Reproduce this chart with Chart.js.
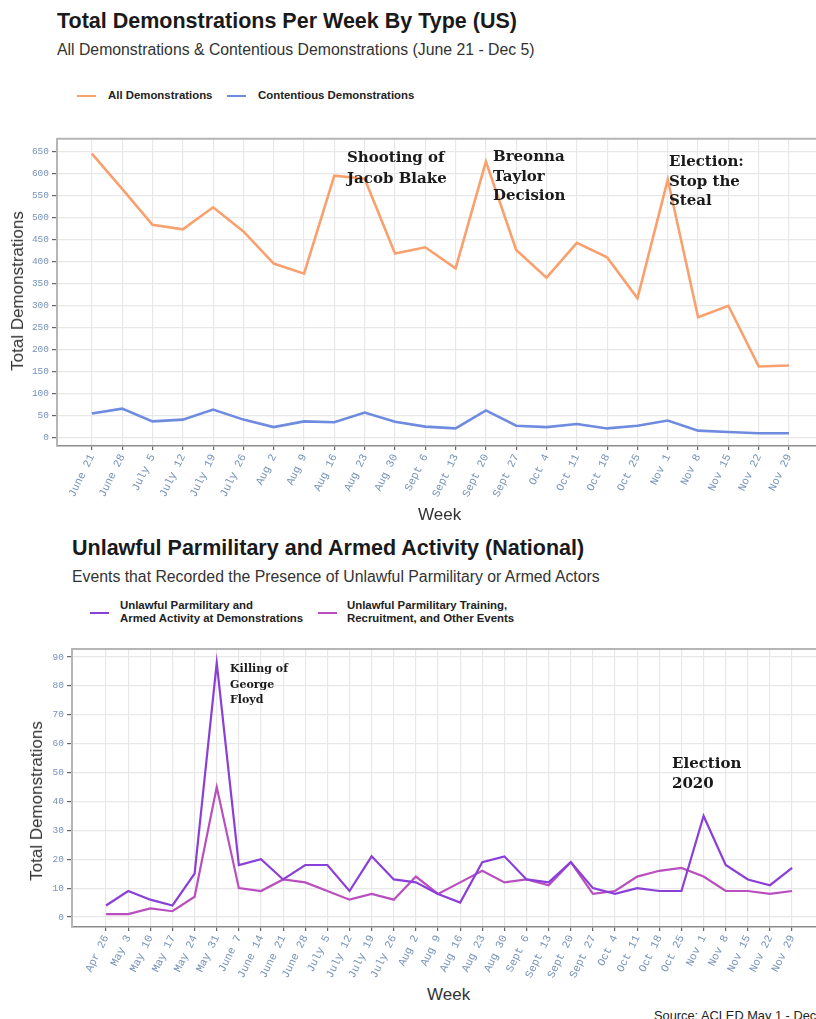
<!DOCTYPE html>
<html>
<head>
<meta charset="utf-8">
<script src="https://cdn.jsdelivr.net/npm/chart.js@4.4.1/dist/chart.umd.min.js"></script>
<style>
  html, body { margin: 0; padding: 0; background: #fff; overflow: hidden; }
  body { width: 816px; height: 1019px; position: relative; font-family: "Liberation Sans", Arial, sans-serif; color: #222; }
  .abs { position: absolute; white-space: nowrap; }
  .title { font-weight: bold; font-size: 21.5px; line-height: 25px; color: #1a1a1a; }
  .sub { font-size: 15.8px; line-height: 18px; color: #333; }
  .leg { font-size: 11.4px; font-weight: bold; color: #222; line-height: 13px; }
  .sw { position: absolute; height: 2px; width: 19px; }
  .axt { font-size: 17px; line-height: 20px; color: #333; }
  .note { font-family: "DejaVu Serif", "Liberation Serif", serif; font-weight: bold; color: #1a1a1a; }
  canvas { position: absolute; left: 0; }
</style>
</head>
<body>

<div class="abs title" style="left:57px; top:9px;">Total Demonstrations Per Week By Type (US)</div>
<div class="abs sub" style="left:57px; top:41px;">All Demonstrations &amp; Contentious Demonstrations (June 21 - Dec 5)</div>
<div class="sw" style="left:77px; top:95px; background:#F8A06E;"></div>
<div class="abs leg" style="left:108px; top:89px;">All Demonstrations</div>
<div class="sw" style="left:227px; top:95px; background:#6E8BE0;"></div>
<div class="abs leg" style="left:258px; top:89px;">Contentious Demonstrations</div>

<div style="position:absolute; left:0; top:130px; width:816px; height:390px;"><canvas id="topChart"></canvas></div>
<div class="abs axt" style="left:18px; top:291px; transform:translate(-50%,-50%) rotate(-90deg);">Total Demonstrations</div>
<div class="abs axt" style="left:418px; top:505px;">Week</div>

<div class="abs note" style="left:347px; top:147px; font-size:15px; line-height:21px;">Shooting of<br>Jacob Blake</div>
<div class="abs note" style="left:493px; top:147px; font-size:15px; line-height:19.5px;">Breonna<br>Taylor<br>Decision</div>
<div class="abs note" style="left:669px; top:152px; font-size:15px; line-height:19.5px;">Election:<br>Stop the<br>Steal</div>

<div class="abs title" style="left:72px; top:536px;">Unlawful Parmilitary and Armed Activity (National)</div>
<div class="abs sub" style="left:72px; top:568px;">Events that Recorded the Presence of Unlawful Parmilitary or Armed Actors</div>
<div class="sw" style="left:90px; top:612px; background:#8A3FD8;"></div>
<div class="abs leg" style="left:120px; top:599px;">Unlawful Parmilitary and<br>Armed Activity at Demonstrations</div>
<div class="sw" style="left:318px; top:612px; background:#B94FBF;"></div>
<div class="abs leg" style="left:347px; top:599px;">Unlawful Parmilitary Training,<br>Recruitment, and Other Events</div>

<div style="position:absolute; left:0; top:640px; width:816px; height:340px;"><canvas id="bottomChart"></canvas></div>
<div class="abs axt" style="left:37px; top:801px; transform:translate(-50%,-50%) rotate(-90deg);">Total Demonstrations</div>
<div class="abs axt" style="left:427px; top:985px;">Week</div>

<div class="abs note" style="left:230px; top:661px; font-size:11px; line-height:15.5px;">Killing of<br>George<br>Floyd</div>
<div class="abs note" style="left:672px; top:753px; font-size:15px; line-height:20px;">Election<br>2020</div>

<div class="abs" style="left:654px; top:1008px; font-size:12.8px; color:#222;">Source: ACLED May 1 - Dec 5</div>

<script>
// Top chart data
const weeksTop = ["June 21", "June 28", "July 5", "July 12", "July 19", "July 26", "Aug 2", "Aug 9",
  "Aug 16", "Aug 23", "Aug 30", "Sept 6", "Sept 13", "Sept 20", "Sept 27", "Oct 4", "Oct 11",
  "Oct 18", "Oct 25", "Nov 1", "Nov 8", "Nov 15", "Nov 22", "Nov 29"];
const allDemos = [645, 565, 483, 473, 523, 468, 395, 372, 595, 588, 418, 432, 384, 627, 426,
  363, 442, 409, 316, 586, 273, 299, 161, 163];
const contentious = [54, 65, 36, 40, 63, 40, 23, 36, 34, 56, 35, 24, 20, 61, 26, 23, 30, 20,
  26, 38, 15, 12, 9, 9];
const yTicksTop = [0, 50, 100, 150, 200, 250, 300, 350, 400, 450, 500, 550, 600, 650];

// Bottom chart data
const weeksBottom = ["Apr 26", "May 3", "May 10", "May 17", "May 24", "May 31", "June 7", "June 14",
  "June 21", "June 28", "July 5", "July 12", "July 19", "July 26", "Aug 2", "Aug 9", "Aug 16",
  "Aug 23", "Aug 30", "Sept 6", "Sept 13", "Sept 20", "Sept 27", "Oct 4", "Oct 11", "Oct 18",
  "Oct 25", "Nov 1", "Nov 8", "Nov 15", "Nov 22", "Nov 29"];
const armedDemos = [4, 9, 6, 4, 15, 88, 18, 20, 13, 18, 18, 9, 21, 13, 12, 8, 5, 19, 21, 13,
  12, 19, 10, 8, 10, 9, 9, 35, 18, 13, 11, 17];
const otherEvents = [1, 1, 3, 2, 7, 45, 10, 9, 13, 12, 9, 6, 8, 6, 14, 8, 12, 16, 12, 13,
  11, 19, 8, 9, 14, 16, 17, 14, 9, 9, 8, 9];
const yTicksBottom = [0, 10, 20, 30, 40, 50, 60, 70, 80, 90];

Chart.defaults.animation = false;
Chart.defaults.font.family = "Liberation Sans";

// top frame line of the plot panel
const frame = {
  id: "frame",
  afterDraw(chart) {
    const a = chart.chartArea, ctx = chart.ctx;
    ctx.save();
    ctx.strokeStyle = "#b5b5b5";
    ctx.lineWidth = 2;
    ctx.beginPath();
    ctx.moveTo(a.left, a.top);
    ctx.lineTo(a.right, a.top);
    ctx.stroke();
    ctx.restore();
  }
};

function toPoints(values) {
  return values.map((v, i) => ({ x: i, y: v }));
}

function makeChart(id, labels, series, yTicks, cfg) {
  const ctx = document.getElementById(id).getContext("2d");
  return new Chart(ctx, {
    type: "line",
    data: {
      datasets: series.map(s => ({
        label: s.label,
        data: toPoints(s.values),
        borderColor: s.color,
        borderWidth: cfg.lineWidth,
        pointRadius: 0,
        tension: 0,
        fill: false
      }))
    },
    options: {
      responsive: true,
      maintainAspectRatio: false,
      layout: { padding: { top: cfg.padTop, right: 0, bottom: 0, left: 0 } },
      plugins: { legend: { display: false }, tooltip: { enabled: false } },
      scales: {
        x: {
          type: "linear",
          min: cfg.xMin,
          max: cfg.xMax,
          afterBuildTicks: s => { s.ticks = labels.map((l, i) => ({ value: i })); },
          afterFit: s => { s.height = cfg.xHeight; },
          ticks: {
            autoSkip: false,
            minRotation: 64,
            maxRotation: 64,
            padding: 2,
            color: "#7592b8",
            font: { family: "Liberation Mono", size: 11 },
            callback: v => labels[v]
          },
          grid: { color: "#e8e8e8", lineWidth: 1.2, tickColor: "#666", tickLength: 4 },
          border: { color: "#8c8c8c", width: 1.6 }
        },
        y: {
          min: cfg.yMin,
          max: cfg.yMax,
          afterBuildTicks: s => { s.ticks = yTicks.map(v => ({ value: v })); },
          afterFit: s => { s.width = cfg.yWidth; },
          ticks: {
            padding: 3,
            color: "#7592b8",
            font: { family: "Liberation Mono", size: 9.5 }
          },
          grid: { color: "#e8e8e8", lineWidth: 1.2, tickColor: "#666", tickLength: 5 },
          border: { color: "#b5b5b5", width: 2 }
        }
      }
    },
    plugins: [frame]
  });
}

makeChart("topChart", weeksTop, [
  { label: "All Demonstrations", values: allDemos, color: "#F8A06E" },
  { label: "Contentious Demonstrations", values: contentious, color: "#6E8BE0" }
], yTicksTop, { padTop: 6, xHeight: 74, yWidth: 57, xMin: -1.15, xMax: 23.89, yMin: -20, yMax: 679, lineWidth: 2.6 });

makeChart("bottomChart", weeksBottom, [
  { label: "Unlawful Parmilitary and Armed Activity at Demonstrations", values: armedDemos, color: "#8A3FD8" },
  { label: "Unlawful Parmilitary Training, Recruitment, and Other Events", values: otherEvents, color: "#B94FBF" }
], yTicksBottom, { padTop: 9, xHeight: 53, yWidth: 72, xMin: -1.54, xMax: 32.08, yMin: -3.46, yMax: 92.8, lineWidth: 2.2 });
</script>
</body>
</html>
